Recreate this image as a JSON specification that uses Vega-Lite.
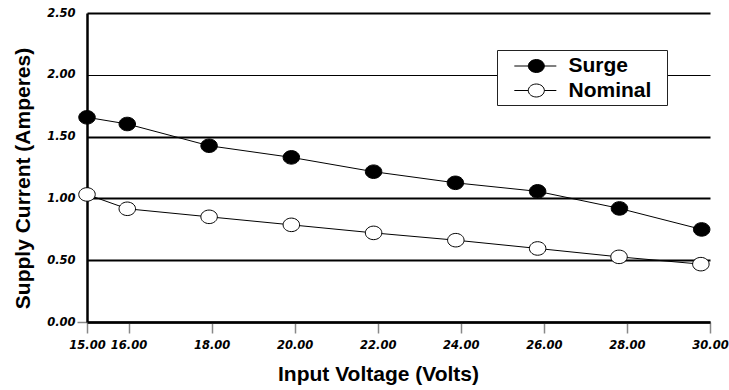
{
  "$schema": "https://vega.github.io/schema/vega-lite/v6.json",
  "width": 623,
  "height": 309,
  "autosize": {"type": "none"},
  "padding": {"left": 87, "top": 13, "right": 19, "bottom": 68},
  "background": "white",
  "config": {"view": {"stroke": null}, "font": "Liberation Sans"},
  "data": {
    "values": [
      {"series": "Surge", "voltage": 15, "current": 1.656},
      {"series": "Surge", "voltage": 15.97, "current": 1.602},
      {"series": "Surge", "voltage": 17.94, "current": 1.426},
      {"series": "Surge", "voltage": 19.92, "current": 1.332},
      {"series": "Surge", "voltage": 21.9, "current": 1.216},
      {"series": "Surge", "voltage": 23.87, "current": 1.126},
      {"series": "Surge", "voltage": 25.85, "current": 1.057},
      {"series": "Surge", "voltage": 27.82, "current": 0.919},
      {"series": "Surge", "voltage": 29.8, "current": 0.749},
      {"series": "Nominal", "voltage": 15, "current": 1.032},
      {"series": "Nominal", "voltage": 15.97, "current": 0.916},
      {"series": "Nominal", "voltage": 17.94, "current": 0.851},
      {"series": "Nominal", "voltage": 19.92, "current": 0.786},
      {"series": "Nominal", "voltage": 21.9, "current": 0.721},
      {"series": "Nominal", "voltage": 23.88, "current": 0.662},
      {"series": "Nominal", "voltage": 25.85, "current": 0.595},
      {"series": "Nominal", "voltage": 27.81, "current": 0.527},
      {"series": "Nominal", "voltage": 29.78, "current": 0.468}
    ]
  },
  "encoding": {
    "x": {
      "field": "voltage",
      "type": "quantitative",
      "scale": {"domain": [15, 30], "nice": false, "zero": false},
      "axis": {
        "values": [15, 16, 18, 20, 22, 24, 26, 28, 30],
        "format": ".2f",
        "title": "Input Voltage (Volts)",
        "grid": false,
        "domainColor": "black",
        "domainWidth": 2.5,
        "tickColor": "#888",
        "tickSize": 11,
        "tickWidth": 1.5,
        "labelFont": "DejaVu Sans",
        "labelFontWeight": "bold",
        "labelFontStyle": "italic",
        "labelFontSize": 11.5,
        "labelColor": "black",
        "labelPadding": 6,
        "labelFlush": false,
        "labelOverlap": false,
        "titleFont": "Liberation Sans",
        "titleFontSize": 21,
        "titleFontWeight": "bold",
        "titleColor": "black",
        "titleX": 291,
        "titleY": 52,
        "titleBaseline": "middle",
        "titleAlign": "center"
      }
    },
    "y": {
      "field": "current",
      "type": "quantitative",
      "scale": {"domain": [0, 2.5], "nice": false},
      "axis": {
        "values": [0, 0.5, 1, 1.5, 2, 2.5],
        "format": ".2f",
        "title": "Supply Current (Amperes)",
        "grid": true,
        "gridColor": "black",
        "gridOpacity": 1,
        "gridWidth": {"condition": {"test": "datum.value === 2", "value": 1}, "value": 2},
        "domainColor": "black",
        "domainWidth": 2.5,
        "tickColor": "#888",
        "tickSize": 10,
        "tickWidth": 1.5,
        "tickOpacity": {"condition": {"test": "datum.value === 0", "value": 1}, "value": 0},
        "labelFont": "DejaVu Sans",
        "labelFontWeight": "bold",
        "labelFontStyle": "italic",
        "labelFontSize": 11.5,
        "labelColor": "black",
        "labelPadding": 2,
        "labelFlush": false,
        "labelOverlap": false,
        "titleFont": "Liberation Sans",
        "titleFontSize": 21,
        "titleFontWeight": "bold",
        "titleColor": "black",
        "titleX": -64,
        "titleY": 165,
        "titleAngle": -90,
        "titleBaseline": "middle",
        "titleAlign": "center"
      }
    }
  },
  "layer": [
    {
      "mark": {"type": "line", "stroke": "black", "strokeWidth": 1},
      "encoding": {"detail": {"field": "series"}}
    },
    {
      "mark": {
        "type": "point",
        "filled": true,
        "opacity": 1,
        "stroke": "black",
        "strokeWidth": 1,
        "shape": "M1,0A1,0.82,0,1,1,-1,0A1,0.82,0,1,1,1,0Z",
        "size": 272
      },
      "encoding": {
        "fill": {
          "field": "series",
          "type": "nominal",
          "scale": {"domain": ["Surge", "Nominal"], "range": ["black", "white"]},
          "legend": {
            "orient": "none",
            "legendX": 410,
            "legendY": 37,
            "title": null,
            "symbolType": "M-1.05,0M13.35,0M0.12,0H1.39M2.85,0H3.94M2.85,0A0.73,0.59,0,1,1,1.39,0A0.73,0.59,0,1,1,2.85,0Z",
            "symbolSize": 484,
            "symbolStrokeColor": "black",
            "symbolStrokeWidth": 1,
            "symbolOpacity": 1,
            "labelFont": "Liberation Sans",
            "labelFontSize": 21,
            "labelFontWeight": "bold",
            "labelColor": "black",
            "labelOffset": 44,
            "strokeColor": "#222",
            "fillColor": "white",
            "padding": 4.5,
            "rowPadding": 2.5
          }
        }
      }
    }
  ]
}
